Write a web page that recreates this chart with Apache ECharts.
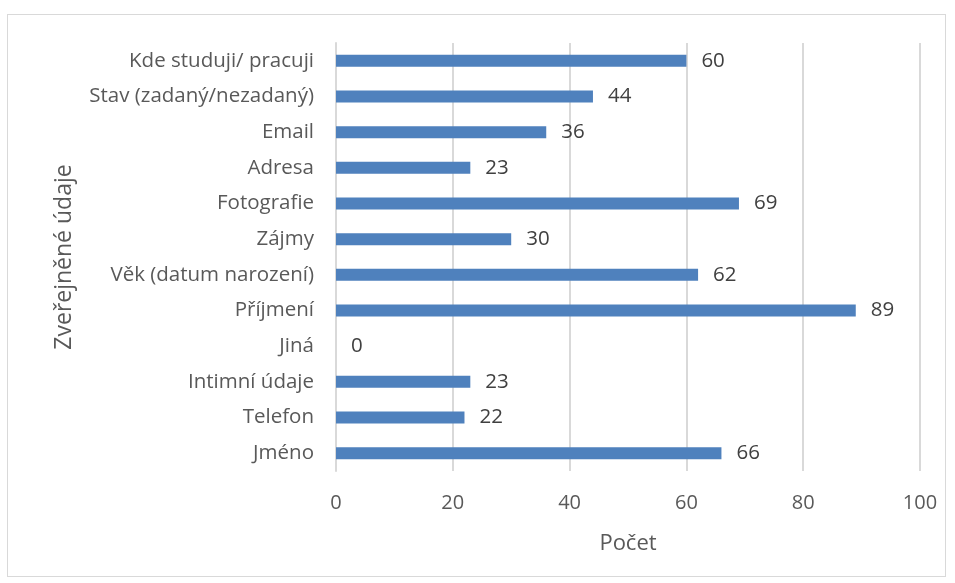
<!DOCTYPE html>
<html>
<head>
<meta charset="utf-8">
<script src="https://cdn.jsdelivr.net/npm/echarts@6/dist/echarts.min.js"></script>
<style>
  html, body { margin: 0; padding: 0; background: #fff; }
  #frame {
    position: absolute; left: 7px; top: 14px; width: 939px; height: 563px;
    border: 1px solid #d9d9d9; box-sizing: border-box;
  }
  #chart { position: absolute; left: 0; top: 0; width: 955px; height: 583px; }
</style>
</head>
<body>
<div id="frame"></div>
<div id="chart"></div>
<script>
// kategorie odspodu nahoru
const categories = ['Jméno', 'Telefon', 'Intimní údaje', 'Jiná', 'Příjmení', 'Věk (datum narození)',
  'Zájmy', 'Fotografie', 'Adresa', 'Email', 'Stav (zadaný/nezadaný)', 'Kde studuji/ pracuji']
const counts = [66, 22, 23, 0, 89, 62, 30, 69, 23, 36, 44, 60]
const xTicks = [0, 20, 40, 60, 80, 100]

const textColor = '#595959'
const fontFamily = '"Open Sans", Lato, sans-serif'

const chart = echarts.init(document.getElementById('chart'))
chart.setOption({
  animation: false,
  textStyle: { fontFamily },
  grid: { left: 336, right: 35, top: 43, bottom: 112 },
  xAxis: {
    type: 'value',
    min: xTicks[0],
    max: xTicks[xTicks.length - 1],
    interval: 20,
    name: 'Počet',
    nameLocation: 'middle',
    nameGap: 62,
    nameTextStyle: { color: textColor, fontSize: 22, fontFamily },
    axisLine: { show: false },
    axisTick: { show: false },
    axisLabel: { color: textColor, fontSize: 20, margin: 22, fontFamily },
    splitLine: { lineStyle: { color: '#d9d9d9', width: 2 } },
  },
  yAxis: {
    type: 'category',
    data: categories,
    name: 'Zveřejněné údaje',
    nameLocation: 'middle',
    nameGap: 260,
    nameRotate: 90,
    nameTextStyle: { color: textColor, fontSize: 23, fontFamily },
    axisLine: { show: true, lineStyle: { color: '#d9d9d9', width: 2 } },
    axisTick: { show: false },
    axisLabel: { color: textColor, fontSize: 20.5, margin: 22, fontFamily },
  },
  series: [
    {
      type: 'bar',
      data: counts,
      barWidth: 12,
      itemStyle: { color: '#4f81bd' },
      label: {
        show: true,
        position: 'right',
        distance: 15,
        color: '#404040',
        fontSize: 20.5,
        fontFamily,
      },
    },
  ],
})
</script>
</body>
</html>
